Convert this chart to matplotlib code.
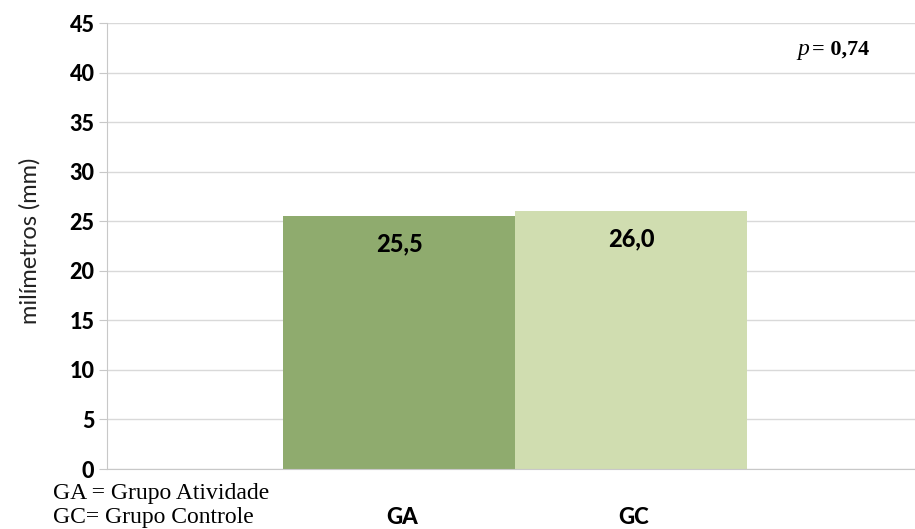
import matplotlib.pyplot as plt

grupos = ['GA', 'GC']
valores = [25.5, 26.0]
rotulos = ['25,5', '26,0']
cores = ['#8fab6e', '#d0ddb0']
yticks = [0, 5, 10, 15, 20, 25, 30, 35, 40, 45]

fig = plt.figure(figsize=(9.15, 5.29), dpi=100)
ax = fig.add_axes([107/915, 1 - 469/529, 808/915, (469 - 23)/529])

x = range(len(grupos))
ax.bar(x, valores, width=1.0, color=cores, zorder=2)
ax.set_xlim(-1.259, 2.224)
ax.set_ylim(0, 45)
ax.set_yticks(yticks)
ax.set_yticklabels([str(t) for t in yticks])
for lb in ax.get_yticklabels():
    lb.set_fontsize(15.5)
    lb.set_fontweight('black')
    lb.set_family('Lato')
ax.set_xticks([])
ax.grid(axis='y', color='#d9d9d9', lw=1, zorder=0)
for s in ['top', 'right']:
    ax.spines[s].set_visible(False)
ax.spines['left'].set_color('#c8c8c8')
ax.spines['bottom'].set_color('#c8c8c8')
ax.tick_params(axis='y', length=6, color='#c8c8c8', pad=3)

for xi, v, r in zip(x, valores, rotulos):
    ax.text(xi, v - 2.8, r, ha='center', va='center', fontsize=17, fontweight='black', family='Lato')

for xi, g in zip(x, grupos):
    fig.text((399 + 232*xi + 3)/915, 1 - 517/529, g, ha='center', va='center',
             fontsize=16, fontweight='black', family='Lato')

fig.text(30/915, 1 - 241/529, 'milímetros (mm)', rotation=90, ha='center', va='center',
         fontsize=17, family='Lato', color='#222222')

fig.text(53/915, 1 - 493/529, 'GA = Grupo Atividade', fontsize=17, family='Liberation Serif', va='center')
fig.text(53/915, 1 - 518/529, 'GC= Grupo Controle', fontsize=17, family='Liberation Serif', va='center')

fig.text(797/915, 1 - 50/529, 'p', fontsize=17, style='italic', family='Liberation Serif', va='center')
fig.text(812/915, 1 - 50/529, '= 0,74', fontsize=16, fontweight='bold', family='Liberation Serif', va='center')

fig.savefig('out.png', dpi=100)
